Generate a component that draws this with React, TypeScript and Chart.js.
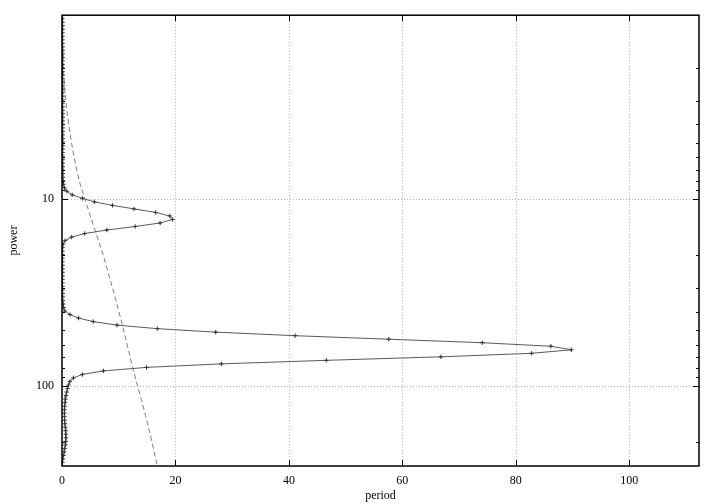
import React, { useEffect, useRef } from "react";
import { Chart, registerables } from "chart.js";
Chart.register(...registerables);

// Periods (y axis, log) for the solid curve
const periods = [
  1.0443, 1.0905, 1.1388, 1.1892, 1.2419, 1.2968, 1.3543, 1.4142, 1.4768, 1.5422, 1.6105, 1.6818, 1.7563, 1.834, 1.9152,
  2, 2.0885, 2.181, 2.2776, 2.3784, 2.4837, 2.5937, 2.7085, 2.8284, 2.9537, 3.0844, 3.221, 3.3636, 3.5125, 3.668, 3.8304,
  4, 4.1771, 4.362, 4.5552, 4.7568, 4.9674, 5.1874, 5.417, 5.6569, 5.9073, 6.1688, 6.442, 6.7272, 7.025, 7.336, 7.6608,
  8, 8.3542, 8.7241, 9.1103, 9.5137, 9.9349, 10.3747, 10.8341, 11.3137, 11.8146, 12.3377, 12.8839, 13.4543, 14.05, 14.6721, 15.3217,
  16, 16.7084, 17.4481, 18.2206, 19.0274, 19.8698, 20.7494, 21.6681, 22.6274, 23.6293, 24.6754, 25.7678, 26.9087, 28.1001, 29.3442, 30.6434,
  32, 33.4167, 34.8963, 36.4413, 38.0547, 39.7395, 41.4988, 43.3362, 45.2548, 47.2586, 49.3507, 51.5357, 53.8174, 56.2001, 58.6884, 61.2868,
  64, 66.8335, 69.7926, 72.8826, 76.1094, 79.479, 82.9977, 86.6723, 90.5097, 94.5172, 98.7015, 103.0713, 107.6347, 112.4003, 117.3768, 122.5736,
  128, 133.667, 139.585, 145.765, 152.219, 158.958, 165.995, 173.345, 181.019, 189.034, 197.403, 206.143, 215.269, 224.801, 234.754, 245.147,
  256, 267.334,
];

// Power values (x axis) for the solid curve
const power = [
  0.05, 0.06, 0.08, 0.1, 0.1, 0.09, 0.08, 0.08, 0.09, 0.1, 0.12, 0.13, 0.12, 0.1, 0.09,
  0.08, 0.08, 0.09, 0.1, 0.11, 0.12, 0.12, 0.11, 0.1, 0.09, 0.09, 0.1, 0.11, 0.12, 0.12, 0.11,
  0.1, 0.1, 0.11, 0.12, 0.13, 0.13, 0.12, 0.11, 0.1, 0.1, 0.11, 0.12, 0.13, 0.14, 0.14, 0.15,
  0.18, 0.25, 0.42, 0.85, 1.8, 3.6, 5.7, 8.9, 12.7, 16.5, 19.0, 19.5, 17.3, 12.9, 7.9, 4.0,
  1.7, 0.55, 0.18, 0.1, 0.08, 0.07, 0.07, 0.08, 0.09, 0.1, 0.1, 0.09, 0.08, 0.08, 0.09, 0.1,
  0.11, 0.12, 0.14, 0.2, 0.28, 0.5, 1.4, 2.9, 5.5, 9.7, 16.8, 27.1, 41.1, 57.6, 74.1, 86.2,
  89.8, 82.8, 66.8, 46.6, 28.1, 14.9, 7.3, 3.6, 2.0, 1.4, 1.15, 0.98, 0.83, 0.7, 0.6, 0.53,
  0.47, 0.42, 0.4, 0.42, 0.47, 0.52, 0.58, 0.64, 0.68, 0.7, 0.65, 0.58, 0.48, 0.4, 0.28, 0.15,
  0.07, 0.02,
];

// Dashed (significance) curve
const sigPeriods = [
  1.0443, 1.2419, 1.4768, 1.7563, 2.0885, 2.4837, 2.9537, 3.5125, 4.1771, 4.9674, 5.9073, 7.025,
  8.3542, 9.9349, 11.8146, 14.05, 16.7084, 19.8698, 23.6293, 28.1001, 33.4167, 39.7395, 47.2586,
  56.2001, 66.8335, 79.479, 94.5172, 112.4003, 133.667, 158.958, 189.034, 224.801, 267.334,
];
const sigPower = [
  0.0, 0.01, 0.05, 0.14, 0.27, 0.45, 0.65, 0.92, 1.28, 1.65, 2.1, 2.6,
  3.2, 4.0, 4.8, 5.6, 6.45, 7.25, 7.95, 8.65, 9.35, 10.0, 10.65,
  11.25, 11.85, 12.45, 13.1, 13.8, 14.45, 15.1, 15.7, 16.25, 16.8,
];

const xTicks = [0, 20, 40, 60, 80, 100];
const yLabelTicks = [10, 100];
const yMinorTicks = [2, 3, 4, 5, 6, 7, 8, 9, 20, 30, 40, 50, 60, 70, 80, 90, 200];
const X_MIN = 0;
const X_MAX = 112.3;
const Y_MIN = 1.0443;
const Y_MAX = 267.334;
const X_TITLE = "period";
const Y_TITLE = "power";

const FONT = "'Liberation Serif', 'Times New Roman', serif";

const framePlugin = {
  id: "gnuframe",
  beforeDatasetsDraw(chart: any) {
    const { ctx, chartArea, scales } = chart;
    const { left, right, top, bottom } = chartArea;
    const x = scales.x;
    const y = scales.y;
    ctx.save();
    ctx.strokeStyle = "#b4b4b4";
    ctx.lineWidth = 1;
    ctx.setLineDash([1, 2]);
    for (const v of xTicks) {
      if (v === X_MIN) continue;
      const px = Math.round(x.getPixelForValue(v)) + 0.5;
      ctx.beginPath();
      ctx.moveTo(px, top);
      ctx.lineTo(px, bottom);
      ctx.stroke();
    }
    for (const v of yLabelTicks) {
      const py = Math.round(y.getPixelForValue(v)) + 0.5;
      ctx.beginPath();
      ctx.moveTo(left, py);
      ctx.lineTo(right, py);
      ctx.stroke();
    }
    ctx.restore();
  },
  afterDatasetsDraw(chart: any) {
    const { ctx, chartArea, scales } = chart;
    const { left, right, top, bottom } = chartArea;
    const x = scales.x;
    const y = scales.y;
    ctx.save();
    ctx.strokeStyle = "#000";
    ctx.lineWidth = 1;
    ctx.setLineDash([]);
    ctx.beginPath();
    for (const v of xTicks) {
      const px = Math.round(x.getPixelForValue(v)) + 0.5;
      ctx.moveTo(px, bottom);
      ctx.lineTo(px, bottom - 6);
      ctx.moveTo(px, top);
      ctx.lineTo(px, top + 6);
    }
    for (const v of yLabelTicks) {
      const py = Math.round(y.getPixelForValue(v)) + 0.5;
      ctx.moveTo(left, py);
      ctx.lineTo(left + 6, py);
      ctx.moveTo(right, py);
      ctx.lineTo(right - 6, py);
    }
    for (const v of yMinorTicks) {
      const py = Math.round(y.getPixelForValue(v)) + 0.5;
      ctx.moveTo(left, py);
      ctx.lineTo(left + 3, py);
      ctx.moveTo(right, py);
      ctx.lineTo(right - 3, py);
    }
    ctx.stroke();
    ctx.lineWidth = 1.5;
    ctx.strokeRect(left, top, right - left, bottom - top);
    ctx.restore();
  },
  afterDraw(chart: any) {
    const { ctx, chartArea } = chart;
    const { left, right, top, bottom } = chartArea;
    ctx.save();
    ctx.fillStyle = "#000";
    ctx.font = `12px ${FONT}`;
    ctx.textAlign = "center";
    ctx.textBaseline = "middle";
    ctx.fillText(X_TITLE, (left + right) / 2, 496);
    ctx.translate(14, (top + bottom) / 2);
    ctx.rotate(-Math.PI / 2);
    ctx.fillText(Y_TITLE, 0, 0);
    ctx.restore();
  },
};

export default function App() {
  const ref = useRef<HTMLCanvasElement | null>(null);
  useEffect(() => {
    if (!ref.current) return;
    const chart = new Chart(ref.current, {
      type: "scatter",
      data: {
        datasets: [
          {
            label: "power",
            data: periods.map((p, i) => ({ x: power[i], y: p })),
            showLine: true,
            borderColor: "#5a5a5a",
            borderWidth: 1,
            tension: 0,
            pointStyle: "cross",
            pointRadius: 2.2,
            pointBorderWidth: 1,
            pointBorderColor: "#333",
            pointBackgroundColor: "#333",
          },
          {
            label: "significance",
            data: sigPeriods.map((p, i) => ({ x: sigPower[i], y: p })),
            showLine: true,
            borderColor: "#808080",
            borderWidth: 1,
            borderDash: [5, 3],
            tension: 0,
            pointRadius: 0,
          },
        ],
      },
      plugins: [framePlugin],
      options: {
        animation: false,
        responsive: false,
        layout: { padding: { top: 15, right: 21, left: 0, bottom: 0 } },
        plugins: { legend: { display: false }, tooltip: { enabled: false } },
        scales: {
          x: {
            type: "linear",
            position: "bottom",
            min: X_MIN,
            max: X_MAX,
            grid: { display: false, drawTicks: false, tickLength: 0 },
            border: { display: false },
            afterBuildTicks: (s: any) => {
              s.ticks = xTicks.map((v) => ({ value: v }));
            },
            afterFit: (s: any) => {
              s.height = 38;
            },
            ticks: {
              padding: 8,
              color: "#000",
              maxRotation: 0,
              autoSkip: false,
              font: { family: FONT, size: 12 },
              callback: (v: any) => String(v),
            },
          },
          y: {
            type: "logarithmic",
            reverse: true,
            min: Y_MIN,
            max: Y_MAX,
            grid: { display: false, drawTicks: false, tickLength: 0 },
            border: { display: false },
            afterBuildTicks: (s: any) => {
              s.ticks = yLabelTicks.map((v) => ({ value: v }));
            },
            afterFit: (s: any) => {
              s.width = 62;
            },
            ticks: {
              padding: 8,
              color: "#000",
              autoSkip: false,
              font: { family: FONT, size: 12 },
              callback: (v: any) => String(v),
            },
          },
        },
      },
    } as any);
    return () => chart.destroy();
  }, []);
  return (
    <div style={{ position: "fixed", left: 0, top: 0, width: 720, height: 504, background: "#fff" }}>
      <canvas ref={ref} width={720} height={504} style={{ display: "block" }} />
    </div>
  );
}
